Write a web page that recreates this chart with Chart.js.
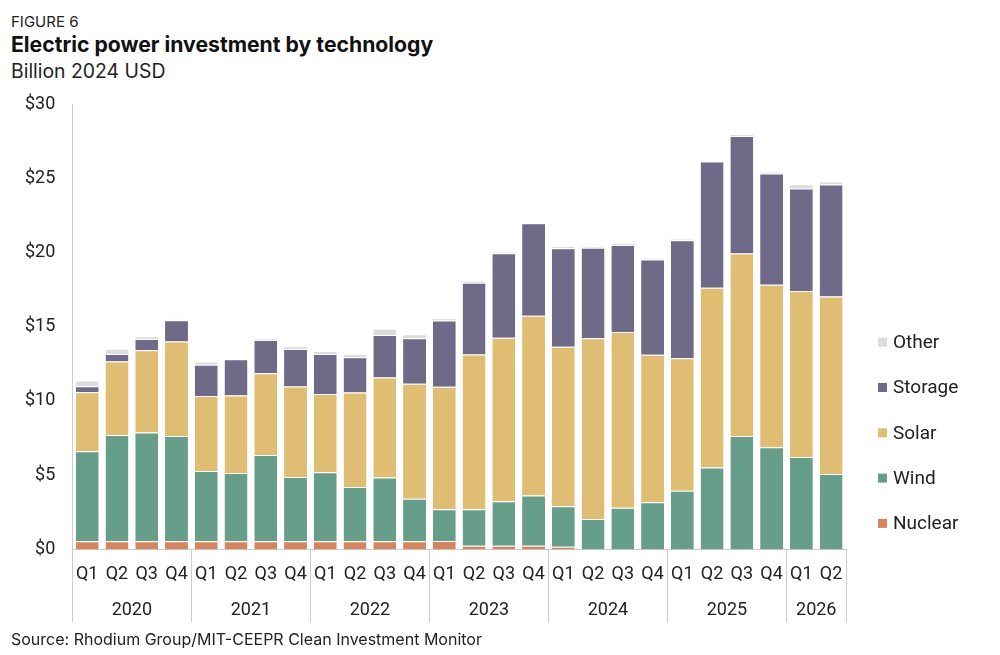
<!DOCTYPE html>
<html>
<head>
<meta charset="utf-8">
<script src="https://cdn.jsdelivr.net/npm/chart.js@4.4.1/dist/chart.umd.min.js"></script>
<style>
  html, body { margin: 0; padding: 0; background: #fff; }
  body { width: 1000px; height: 655px; position: relative; overflow: hidden; font-family: Inter, Roboto, sans-serif; color: #222; }
  .t { position: absolute; left: 11px; white-space: nowrap; line-height: 1; }
  #fig { top: 13.5px; font-size: 15px; }
  #title { top: 34px; font-size: 21.2px; font-weight: bold; color: #111; }
  #sub { top: 62.3px; font-size: 19.4px; }
  #src { top: 630.5px; font-size: 16px; }
  #c { position: absolute; left: 0; top: 90px; }
</style>
</head>
<body>
<div class="t" id="fig">FIGURE 6</div>
<div class="t" id="title">Electric power investment by technology</div>
<div class="t" id="sub">Billion 2024 USD</div>
<canvas id="c" width="1000" height="540" style="width:1000px;height:540px"></canvas>
<div class="t" id="src">Source: Rhodium Group/MIT-CEEPR Clean Investment Monitor</div>
<script>
const quarters = ['Q1','Q2','Q3','Q4','Q1','Q2','Q3','Q4','Q1','Q2','Q3','Q4','Q1','Q2','Q3','Q4','Q1','Q2','Q3','Q4','Q1','Q2','Q3','Q4','Q1','Q2'];
const yearOfQuarter = ['2020','2020','2020','2020','2021','2021','2021','2021','2022','2022','2022','2022','2023','2023','2023','2023','2024','2024','2024','2024','2025','2025','2025','2025','2026','2026'];

const nuclear = [0.55,0.55,0.55,0.55, 0.55,0.55,0.55,0.55, 0.55,0.55,0.55,0.55, 0.57,0.24,0.24,0.24, 0.18,0,0,0, 0,0,0,0, 0,0];
const wind    = [6.06,7.15,7.32,7.08, 4.73,4.60,5.81,4.32, 4.64,3.65,4.30,2.86, 2.14,2.47,3.01,3.39, 2.73,2.05,2.80,3.18, 3.95,5.51,7.63,6.88, 6.23,5.08];
const solar   = [3.97,4.96,5.54,6.38, 5.06,5.21,5.51,6.10, 5.28,6.36,6.73,7.74, 8.24,10.42,11.01,12.10, 10.74,12.17,11.85,9.93, 8.93,12.12,12.30,10.95, 11.17,11.96];
const storage = [0.41,0.50,0.76,1.43, 2.10,2.44,2.23,2.53, 2.69,2.39,2.86,3.07, 4.47,4.83,5.69,6.23, 6.64,6.09,5.86,6.41, 7.95,8.50,7.92,7.49, 6.91,7.54];
const other   = [0.38,0.36,0.18,0.05, 0.22,0.05,0.10,0.18, 0.21,0.21,0.43,0.27, 0.17,0.16,0.11,0.05, 0.14,0.12,0.12,0.11, 0.07,0.05,0.11,0.12, 0.29,0.20];

const seriesNames = ['Nuclear','Wind','Solar','Storage','Other'];
const seriesColors = ['#d4845e','#679e8a','#dfbd73','#6e6a87','#dcdce0'];
const seriesValues = [nuclear, wind, solar, storage, other];
const yTicks = [0,5,10,15,20,25,30];

const FONT = 'Roboto, "Noto Sans", sans-serif';
const TEXT = '#222';
const AXIS = '#cccccc';

const extras = {
  id: 'extras',
  afterDraw(chart) {
    const ctx = chart.ctx;
    const xs = chart.scales.x;
    const area = chart.chartArea;
    const half = (xs.getPixelForValue(1) - xs.getPixelForValue(0)) / 2;
    ctx.save();
    ctx.strokeStyle = AXIS;
    ctx.lineWidth = 1;
    const groups = [];
    yearOfQuarter.forEach((y, i) => {
      if (!groups.length || groups[groups.length - 1].year !== y) groups.push({year: y, start: i, end: i});
      else groups[groups.length - 1].end = i;
    });
    const sepBottom = area.bottom + 73;
    const drawSep = (x) => {
      const px = Math.round(x) + 0.5;
      ctx.beginPath(); ctx.moveTo(px, area.bottom); ctx.lineTo(px, sepBottom); ctx.stroke();
    };
    drawSep(xs.getPixelForValue(0) - half);
    ctx.font = '18px ' + FONT;
    ctx.fillStyle = TEXT;
    ctx.textAlign = 'center';
    ctx.textBaseline = 'middle';
    groups.forEach(g => {
      drawSep(xs.getPixelForValue(g.end) + half);
      const cx = (xs.getPixelForValue(g.start) + xs.getPixelForValue(g.end)) / 2;
      ctx.fillText(g.year, cx, area.bottom + 61);
    });
    ctx.font = '19px ' + FONT;
    ctx.textAlign = 'left';
    const lx = area.right + 32;
    seriesNames.forEach((name, k) => {
      const cy = area.bottom - 26 - 45.3 * k;
      ctx.fillStyle = seriesColors[k];
      ctx.fillRect(lx, cy - 4.5, 9, 9);
      ctx.fillStyle = TEXT;
      ctx.fillText(name, lx + 15, cy + 1);
    });
    ctx.restore();
  }
};

new Chart(document.getElementById('c'), {
  type: 'bar',
  data: {
    labels: quarters,
    datasets: seriesNames.map((name, k) => ({
      label: name,
      data: seriesValues[k],
      backgroundColor: seriesColors[k],
      borderColor: '#ffffff',
      borderWidth: {top: 1, right: 0, bottom: 0, left: 0},
      borderSkipped: false,
      barPercentage: 0.77,
      categoryPercentage: 1.0
    }))
  },
  options: {
    responsive: false,
    animation: false,
    devicePixelRatio: 1,
    layout: { padding: { left: 8, right: 154, top: 14, bottom: 31 } },
    plugins: { legend: { display: false }, tooltip: { enabled: false }, title: { display: false } },
    scales: {
      x: {
        stacked: true,
        grid: { display: false, drawTicks: false },
        border: { display: true, color: AXIS, width: 1 },
        ticks: { color: TEXT, font: { family: FONT, size: 18 }, padding: 14, maxRotation: 0, autoSkip: false }
      },
      y: {
        stacked: true,
        min: 0, max: 30,
        afterBuildTicks: (s) => { s.ticks = yTicks.map(v => ({value: v})); },
        afterFit: (s) => { s.paddingTop = 11; s.paddingBottom = 0; },
        grid: { display: false, drawTicks: false },
        border: { display: true, color: AXIS, width: 1 },
        ticks: { color: TEXT, font: { family: FONT, size: 18 }, padding: 17, callback: (v) => '$' + v }
      }
    }
  },
  plugins: [extras]
});
</script>
</body>
</html>
